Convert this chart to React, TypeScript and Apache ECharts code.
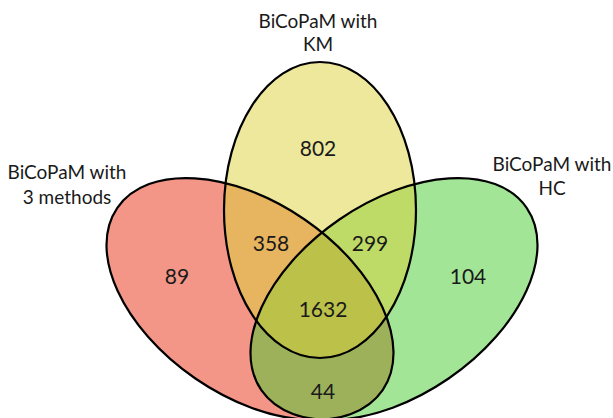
import React, { useEffect, useRef } from "react";
import * as echarts from "echarts";

// ---- data ----
const setNames = ["BiCoPaM with\n3 methods", "BiCoPaM with\nKM", "BiCoPaM with\nHC"];
const regionKeys = ["M", "K", "H", "MK", "KH", "MKH", "MH"];
const regionValues = [89, 802, 104, 358, 299, 1632, 44];

// ---- layout (pixels) ----
const W = 613;
const H = 418;
const ellipses = [
  { cx: 250, cy: 299, rx: 161, ry: 96.5, deg: -34.5, fill: "rgba(231,45,15,0.5)" },
  { cx: 394, cy: 299, rx: 161, ry: 96.5, deg: 34.5, fill: "rgba(71,203,45,0.5)" },
  { cx: 320, cy: 210, rx: 96, ry: 148, deg: 0, fill: "rgba(219,209,55,0.5)" },
];
const setLabelPos = [
  { x: 67, y: 184, lh: 25 },
  { x: 318, y: 32, lh: 23 },
  { x: 552, y: 175, lh: 24 },
];
const regionPos: Record<string, [number, number]> = {
  M: [177, 275],
  K: [318, 147],
  H: [468, 275],
  MK: [271, 242],
  KH: [370, 242],
  MKH: [323, 308],
  MH: [323, 390],
};

const FONT = "Lato, 'Noto Sans', sans-serif";
const TEXT_COLOR = "#1a1a1a";

export default function App() {
  const ref = useRef<HTMLDivElement>(null);
  useEffect(() => {
    if (!ref.current) return;
    const chart = echarts.init(ref.current, undefined, { renderer: "svg" });
    const elements: any[] = [];
    ellipses.forEach((e) => {
      elements.push({
        type: "ellipse",
        x: e.cx,
        y: e.cy,
        rotation: (e.deg * Math.PI) / 180,
        shape: { cx: 0, cy: 0, rx: e.rx, ry: e.ry },
        style: { fill: e.fill, stroke: "none" },
        silent: true,
      });
    });
    ellipses.forEach((e) => {
      elements.push({
        type: "ellipse",
        x: e.cx,
        y: e.cy,
        rotation: (e.deg * Math.PI) / 180,
        shape: { cx: 0, cy: 0, rx: e.rx, ry: e.ry },
        style: { fill: "none", stroke: "#000", lineWidth: 2.2 },
        silent: true,
      });
    });
    setNames.forEach((name, i) => {
      const p = setLabelPos[i];
      elements.push({
        type: "text",
        x: p.x,
        y: p.y,
        style: {
          text: name,
          fill: TEXT_COLOR,
          font: `19px ${FONT}`,
          lineHeight: p.lh,
          align: "center",
          verticalAlign: "middle",
          textAlign: "center",
          textVerticalAlign: "middle",
        },
      });
    });
    regionKeys.forEach((k, i) => {
      const [x, y] = regionPos[k];
      elements.push({
        type: "text",
        x,
        y,
        style: {
          text: String(regionValues[i]),
          fill: TEXT_COLOR,
          font: `21px ${FONT}`,
          align: "center",
          verticalAlign: "middle",
          textAlign: "center",
          textVerticalAlign: "middle",
        },
      });
    });
    chart.setOption({
      animation: false,
      backgroundColor: "#ffffff",
      graphic: { elements },
    });
    return () => chart.dispose();
  }, []);
  return (
    <div
      ref={ref}
      style={{ position: "absolute", left: 0, top: 0, width: W, height: H }}
    />
  );
}
